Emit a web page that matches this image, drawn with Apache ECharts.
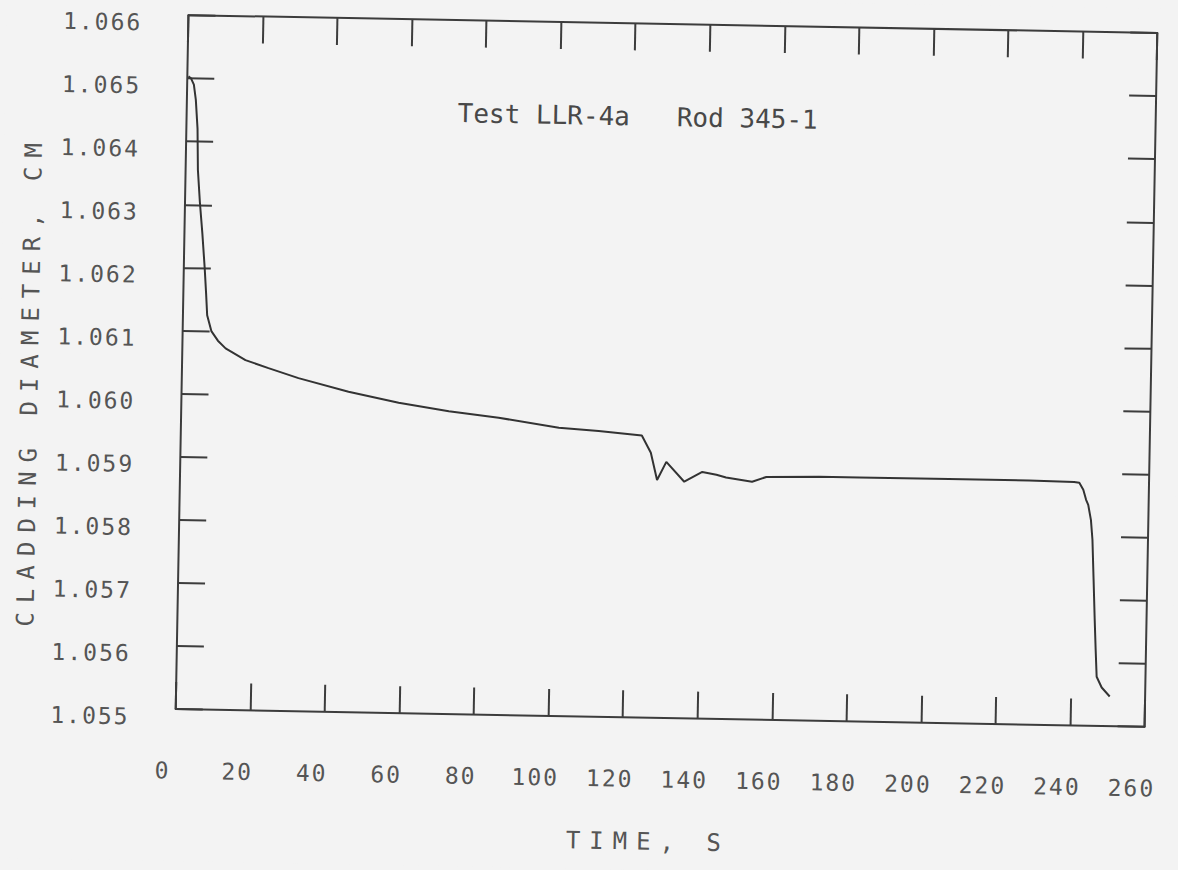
<!DOCTYPE html>
<html>
<head>
<meta charset="utf-8">
<title>Test LLR-4a Rod 345-1</title>
<script src="https://cdn.jsdelivr.net/npm/echarts@6/dist/echarts.min.js"></script>
<style>
  html, body { margin: 0; padding: 0; background: #f3f3f3; overflow: hidden; }
  #main {
    width: 1178px; height: 870px; background: #f3f3f3;
    transform-origin: 667px 371px;
    transform: rotate(1.05deg);
  }
  /* plotter lettering is widely spaced */
  #main text[style*="23px"] { letter-spacing: 2px; }
  #main text[style*="24px"] { letter-spacing: 9px; }
</style>
</head>
<body>
<div id="main"></div>
<script>
// time, s
var timeS = [0.3, 1.0, 1.8, 2.4, 3.0, 3.3, 4.0, 4.8, 5.6, 6.1,
  6.5, 7.7, 9.5, 11.6, 17.0, 23.2, 31.3, 44.8, 58.3, 71.8,
  85.2, 101.4, 112.1, 123.7, 126.2, 128.0, 130.4, 135.3, 140.1, 143.9,
  146.5, 153.5, 157.3, 171.5, 182.2, 206.3, 227.8, 239.9, 241.3, 242.4,
  243.2, 243.8, 244.6, 245.1, 245.6, 246.1, 246.5, 246.9, 248.3, 250.5];
// cladding diameter, cm
var diameterCm = [1.06503, 1.06500, 1.06490, 1.06466, 1.06420, 1.06355, 1.06303, 1.06255, 1.06200, 1.06160,
  1.06125, 1.06100, 1.06085, 1.06073, 1.06055, 1.06043, 1.06028, 1.06008, 1.05992, 1.05980,
  1.05971, 1.05957, 1.05953, 1.05947, 1.05920, 1.05877, 1.05906, 1.05875, 1.05891, 1.05887,
  1.05883, 1.05877, 1.05885, 1.05887, 1.05887, 1.05887, 1.05887, 1.05886, 1.05885, 1.05874,
  1.05858, 1.05850, 1.05826, 1.05795, 1.05732, 1.05668, 1.05621, 1.05578, 1.05561, 1.05547];

var xTicks = {min: 0, max: 260, interval: 20};
var yTicks = {min: 1.055, max: 1.066, interval: 0.001};

var titleText = 'Test LLR-4a   Rod 345-1';
var xName = 'TIME, S';
var yName = 'CLADDING DIAMETER, CM';

var points = [];
for (var i = 0; i < timeS.length; i++) {
  points.push([timeS[i], diameterCm[i]]);
}

var ink = '#3c3c3c';
var txt = '#555555';
var mono = 'DejaVu Sans Mono';

// frame side: line + inward ticks, no labels
function frameAxis(pos, t) {
  return {
    type: 'value', position: pos,
    min: t.min, max: t.max, interval: t.interval,
    axisLine: {show: true, onZero: false, lineStyle: {color: ink, width: 2}},
    axisTick: {show: true, inside: true, length: 27, lineStyle: {color: ink, width: 2}},
    axisLabel: {show: false},
    splitLine: {show: false}
  };
}

var chart = echarts.init(document.getElementById('main'), null, {renderer: 'svg'});

var xMain = frameAxis('bottom', xTicks);
xMain.name = xName;
xMain.nameLocation = 'middle';
xMain.nameGap = 112;
xMain.nameTextStyle = {fontFamily: mono, fontSize: 24, color: txt, padding: [0, 20, 0, 0]};
xMain.axisLabel = {show: true, margin: 50, fontFamily: mono, fontSize: 23, color: txt, padding: [0, 24, 0, 0]};

var yMain = frameAxis('left', yTicks);
yMain.name = yName;
yMain.nameLocation = 'middle';
yMain.nameGap = 140;
yMain.nameTextStyle = {fontFamily: mono, fontSize: 24, color: txt, padding: [0, 42, 0, 0]};
yMain.axisLabel = {
  show: true, margin: 46, fontFamily: mono, fontSize: 23, color: txt,
  verticalAlign: 'top', lineHeight: 16,
  formatter: function (v) { return v.toFixed(3); }
};

var option = {
  backgroundColor: '#f3f3f3',
  animation: false,
  title: {
    text: titleText,
    left: 448,
    top: 99,
    textStyle: {fontFamily: mono, fontSize: 26, fontWeight: 'normal', color: '#484848'}
  },
  grid: {left: 182, top: 24, width: 969, height: 694, containLabel: false},
  xAxis: [xMain, frameAxis('top', xTicks)],
  yAxis: [yMain, frameAxis('right', yTicks)],
  series: [
    {
      type: 'line',
      xAxisIndex: 0, yAxisIndex: 0,
      data: points,
      showSymbol: false,
      lineStyle: {color: '#333333', width: 2}
    }
  ]
};

chart.setOption(option);
</script>
</body>
</html>
